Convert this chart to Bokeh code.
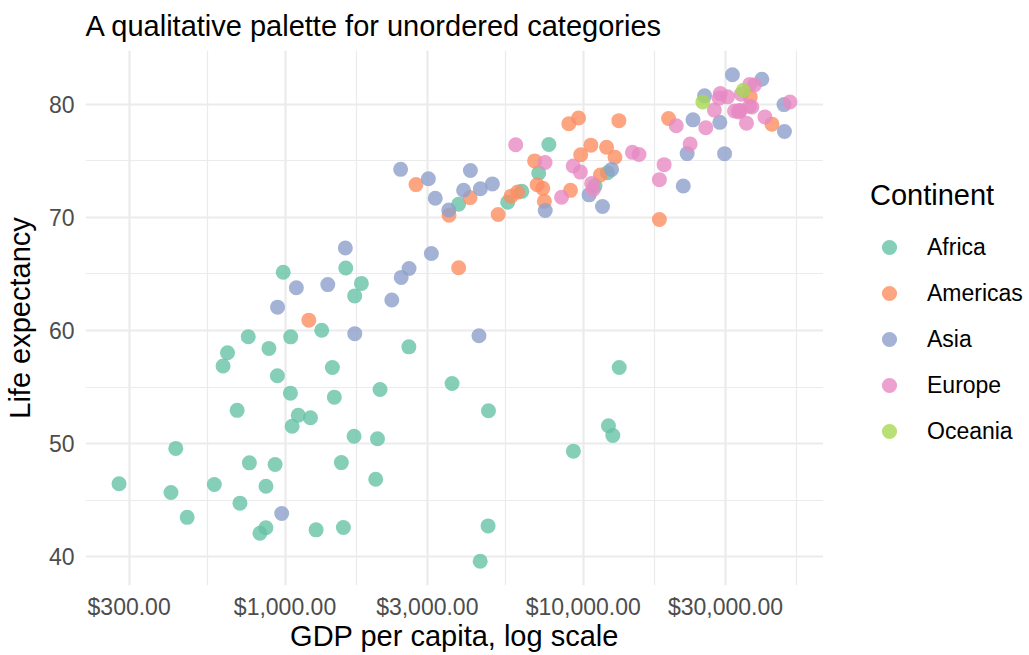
import math
from bokeh.plotting import figure
from bokeh.layouts import row
from bokeh.models import (Range1d, FixedTicker, NumeralTickFormatter, Legend,
                          LegendItem)
from bokeh.embed import file_html
from bokeh.resources import INLINE

# ---------------- data (gapminder, 2007) ----------------
continents = ["Africa", "Americas", "Asia", "Europe", "Oceania"]
palette = ["#66C2A5", "#FC8D62", "#8DA0CB", "#E78AC3", "#A6D854"]

africa_gdp = [6223.37, 4797.23, 1441.28, 12569.85, 1217.03, 430.07, 2042.10, 706.02,
              1704.06, 986.15, 277.55, 3632.56, 1544.75, 2082.48, 5581.18, 12154.09,
              641.37, 690.81, 13206.48, 752.75, 1327.61, 942.65, 579.23, 1463.25,
              1569.33, 414.51, 12057.50, 1044.77, 759.35, 1042.58, 1803.15, 10956.99,
              3820.18, 823.69, 4811.06, 619.68, 2013.98, 7670.12, 863.09, 1598.44,
              1712.47, 862.54, 926.14, 9269.66, 2602.39, 4513.48, 1107.48, 882.97,
              7092.92, 1056.38, 1271.21, 469.71]
africa_life = [72.301, 42.731, 56.728, 50.728, 52.295, 49.580, 50.430, 44.741,
               50.651, 65.152, 46.462, 55.322, 48.328, 54.791, 71.338, 51.579,
               58.040, 52.947, 56.735, 59.448, 60.022, 56.007, 46.388, 54.110,
               42.592, 45.678, 73.952, 59.443, 48.303, 54.467, 64.164, 72.801,
               71.164, 42.082, 52.906, 56.867, 46.859, 76.442, 46.242, 65.528,
               63.062, 42.568, 48.159, 49.339, 58.556, 39.613, 52.517, 58.420,
               73.923, 51.542, 42.384, 43.487]

americas_gdp = [12779.38, 3822.14, 9065.80, 36319.24, 13171.64, 7006.58, 9645.06,
                8948.10, 6025.37, 6873.26, 5728.35, 5186.05, 1201.64, 3548.33,
                7320.88, 11977.57, 2749.32, 9809.19, 4172.84, 7408.91, 19328.71,
                18008.94, 42951.65, 10611.46, 11415.81]
americas_life = [75.320, 65.554, 72.390, 80.653, 78.553, 72.889, 78.782, 78.273,
                 72.235, 74.994, 71.878, 70.259, 60.916, 70.198, 72.567, 76.195,
                 72.899, 75.537, 71.752, 71.421, 78.746, 69.819, 78.242, 76.384,
                 73.747]

asia_gdp = [974.58, 29796.05, 1391.25, 1713.78, 4959.11, 39724.98, 2452.21, 3540.65,
            11605.71, 4471.06, 25523.28, 31656.07, 4519.46, 1593.07, 23348.14,
            47306.99, 10461.06, 12451.66, 3095.77, 944.00, 1091.36, 22316.19,
            2605.95, 3190.48, 21654.83, 47143.18, 3970.10, 4184.55, 28718.28,
            7458.40, 2441.58, 3025.35, 2280.77]
asia_life = [43.828, 75.635, 64.062, 59.723, 72.961, 82.208, 64.698, 70.650,
             70.964, 59.545, 80.745, 82.603, 72.535, 67.297, 78.623, 77.588,
             71.993, 74.241, 66.803, 62.069, 63.785, 75.640, 65.483, 71.688,
             72.777, 79.972, 72.396, 74.143, 78.400, 70.616, 74.249, 73.422,
             62.698]

europe_gdp = [5937.03, 36126.49, 33692.61, 7446.30, 10680.79, 14619.22, 22833.31,
              35278.42, 33207.08, 30470.02, 32170.37, 27538.41, 18008.51, 36180.79,
              40676.00, 28569.72, 9253.90, 36797.93, 49357.19, 15389.92, 20509.65,
              10808.48, 9786.53, 18678.31, 25768.26, 28821.06, 33859.75, 37506.42,
              8458.28, 33203.26]
europe_life = [76.423, 79.829, 79.441, 74.852, 73.005, 75.748, 76.486, 78.332,
               79.313, 80.657, 79.406, 79.483, 73.338, 81.757, 78.885, 80.546,
               74.543, 79.762, 80.196, 75.563, 78.098, 72.476, 74.002, 74.663,
               77.926, 80.941, 80.884, 81.701, 71.777, 79.425]

oceania_gdp = [34435.37, 25185.01]
oceania_life = [81.235, 80.204]

x_breaks = [300, 1000, 3000, 10000, 30000]
y_breaks = [40, 50, 60, 70, 80]

title_text = "A qualitative palette for unordered categories"
x_title = "GDP per capita, log scale"
y_title = "Life expectancy"
legend_title = "Continent"

series = [(africa_gdp, africa_life), (americas_gdp, americas_life),
          (asia_gdp, asia_life), (europe_gdp, europe_life),
          (oceania_gdp, oceania_life)]

# ---------------- scales (ggplot-like 5% expansion) ----------------
all_gdp = [g for s in series for g in s[0]]
all_life = [v for s in series for v in s[1]]
lx0, lx1 = math.log10(min(all_gdp)), math.log10(max(all_gdp))
ex = (lx1 - lx0) * 0.05
y0, y1 = min(all_life), max(all_life)
ey = (y1 - y0) * 0.05
x_lo, x_hi = 10 ** (lx0 - ex), 10 ** (lx1 + ex)
y_lo, y_hi = y0 - ey, y1 + ey

def minor_breaks(br):
    ext = [br[0] - (br[1] - br[0])] + list(br) + [br[-1] + (br[-1] - br[-2])]
    return [(a + b) / 2 for a, b in zip(ext[:-1], ext[1:])]

lb = [math.log10(b) for b in x_breaks]
x_minor = [10 ** m for m in minor_breaks(lb) if lx0 - ex <= m <= lx1 + ex]
y_minor = [m for m in minor_breaks(y_breaks) if y_lo <= m <= y_hi]

FONT = "Liberation Sans"
W, H = 1029, 655
LEG_W = 206

p = figure(width=W - LEG_W, height=H, x_axis_type="log",
           x_range=Range1d(x_lo, x_hi), y_range=Range1d(y_lo, y_hi),
           output_backend="svg", toolbar_location=None,
           min_border_left=85, min_border_right=0, min_border_top=50,
           min_border_bottom=70)
p.outline_line_color = None
p.background_fill_color = "white"
p.border_fill_color = "white"

xa, ya = p.below[0], p.left[0]

p.title.text = title_text
p.title.text_font = FONT
p.title.text_font_size = "29px"
p.title.text_font_style = "normal"
p.title.text_color = "black"
p.title.align = "left"
p.title.vertical_align = "top"
p.title.standoff = 14

xa.ticker = FixedTicker(ticks=x_breaks, minor_ticks=x_minor)
ya.ticker = FixedTicker(ticks=y_breaks, minor_ticks=y_minor)
xa.formatter = NumeralTickFormatter(format="$0,0.00")

for ax in (xa, ya):
    ax.axis_line_color = None
    ax.major_tick_line_color = None
    ax.minor_tick_line_color = None
    ax.major_tick_out = 0
    ax.major_tick_in = 0
    ax.minor_tick_out = 0
    ax.minor_tick_in = 0
    ax.major_label_text_font = FONT
    ax.major_label_text_font_size = "23px"
    ax.major_label_text_color = "#4D4D4D"
    ax.axis_label_text_font = FONT
    ax.axis_label_text_font_size = "29px"
    ax.axis_label_text_font_style = "normal"
    ax.axis_label_text_color = "black"

xa.axis_label = x_title
ya.axis_label = y_title
xa.major_label_standoff = 8
xa.axis_label_standoff = -3
ya.major_label_standoff = 11
ya.axis_label_standoff = 10

for g in (p.xgrid, p.ygrid):
    g.grid_line_color = "#EBEBEB"
    g.grid_line_width = 2.2
    g.minor_grid_line_color = "#EBEBEB"
    g.minor_grid_line_width = 1.2

for name, col, (gx, gy) in zip(continents, palette, series):
    p.scatter(gx, gy, size=15, fill_color=col, fill_alpha=0.8, line_color=None)

# ---------------- legend panel (to the right of the plot) ----------------
# its frame only spans the unit square, so the copies of the data fall
# outside it; they exist only so each legend entry has its glyph.
lp = figure(width=LEG_W, height=H, x_range=(0, 1), y_range=(0, 1),
            output_backend="svg", toolbar_location=None,
            x_axis_location=None, y_axis_location=None,
            min_border_left=0, min_border_right=0, min_border_top=0,
            min_border_bottom=0)
lp.outline_line_color = None
lp.grid.visible = False
lp.background_fill_color = "white"
lp.border_fill_color = "white"

items = []
for name, col, (gx, gy) in zip(continents, palette, series):
    r = lp.scatter(gx, gy, size=15, fill_color=col, fill_alpha=0.8,
                   line_color=None)
    items.append(LegendItem(label=name, renderers=[r]))

legend = Legend(items=items, location=(47, 135), title=legend_title,
                title_text_font=FONT, title_text_font_size="29px",
                title_text_font_style="normal", title_text_color="black",
                label_text_font=FONT, label_text_font_size="23px",
                label_text_color="black",
                glyph_width=38, glyph_height=38, spacing=8, padding=0,
                label_standoff=19, title_standoff=16, margin=0,
                border_line_color=None, background_fill_alpha=0)
lp.add_layout(legend, "center")

layout = row(p, lp, spacing=0)
open("out.html", "w").write(file_html(layout, INLINE))
